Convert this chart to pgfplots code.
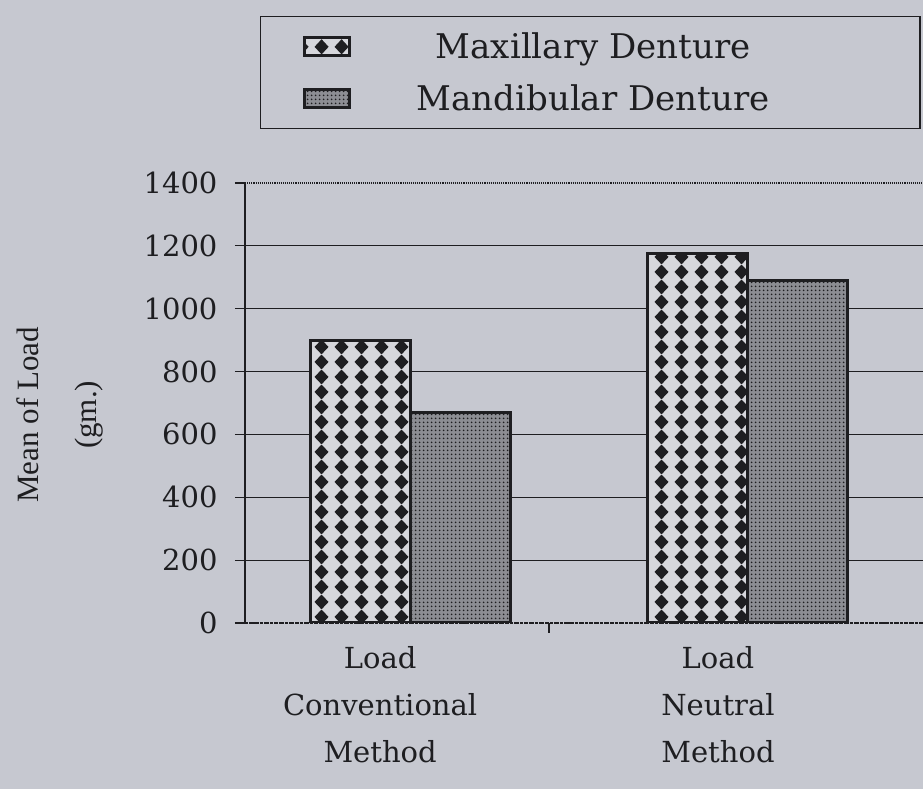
\documentclass[border=0pt]{standalone}
\usepackage{fontspec}
\setmainfont{DejaVu Serif}
\newfontfamily\timesf{Liberation Serif}
\usepackage{pgfplots}
\pgfplotsset{compat=1.18}
\usetikzlibrary{patterns,patterns.meta}
\definecolor{paper}{RGB}{198,200,208}
\definecolor{ink}{RGB}{30,30,33}
\definecolor{maxbg}{RGB}{214,215,220}
\definecolor{mandbg}{RGB}{140,141,147}
\tikzdeclarepattern{
  name=diamonds, type=uncolored,
  bottom left={(0pt,0pt)}, top right={(19.5pt,15pt)},
  tile size={(19.5pt,15pt)},
  code={\fill (9.75pt,-0.4pt) -- (16.9pt,7.5pt) -- (9.75pt,15.4pt) -- (2.6pt,7.5pt) -- cycle;}
}
\tikzdeclarepattern{
  name=finedots, type=uncolored,
  bottom left={(0pt,0pt)}, top right={(3.6pt,3.6pt)},
  tile size={(3.6pt,3.6pt)},
  code={\fill (1.8pt,1.8pt) circle (1.05pt);}
}
\pgfplotsset{
  boxlegend/.style={legend image code/.code={\path (-42pt,0pt); \draw[##1, line width=2pt] (0pt,-9pt) rectangle (45pt,9pt);}}
}
\begin{document}
\begin{tikzpicture}[x=1pt,y=1pt]
\fill[paper] (0,0) rectangle (923,789);
\useasboundingbox (0,0) rectangle (923,789);
\begin{axis}[
  at={(245pt,166pt)}, anchor=south west,
  scale only axis, width=678pt, height=440pt,
  xmin=-0.40, xmax=1.607, ymin=0, ymax=1400,
  axis x line=bottom, axis y line=left,
  axis line style={-, ink, line width=1.6pt},
  x axis line style={densely dashed},
  tick align=outside, major tick length=10pt,
  tick style={ink, line width=1.1pt},
  ytick={200,400,...,1200},
  ymajorgrids,
  major grid style={ink, line width=1.1pt},
  extra y ticks={0,1400},
  extra y tick style={ymajorgrids=true, major grid style={ink, densely dotted, line width=1.6pt}},
  /pgf/number format/assume math mode=true,
  /pgf/number format/1000 sep={},
  yticklabel style={font=\fontsize{29}{32}\selectfont, text=ink, xshift=-14pt},
  xtick={0.5}, xticklabels={{}},
  extra x ticks={0,1},
  extra x tick labels={{Load\\Conventional\\Method},{Load\\Neutral\\Method}},
  extra x tick style={major tick length=0pt},
  xticklabel style={align=center, font=\fontsize{29}{47}\selectfont, text=ink, yshift=-20pt},
  ylabel={Mean of Load\\[22pt](gm.)},
  ylabel style={font=\timesf\fontsize{31}{36}\selectfont, align=center, text=ink, at={(axis description cs:-0.273,0.473)}, anchor=center},
  legend style={at={(axis description cs:0.0221,1.3795)}, anchor=north west,
    draw=ink, line width=1.4pt, fill=none, inner xsep=0pt, inner ysep=4pt,
    column sep=0pt, row sep=0pt, nodes={inner sep=0pt, minimum height=52pt},
    font=\fontsize{34}{38}\selectfont, text=ink},
  legend cell align=left,
]
\addplot[ybar, bar width=100pt, bar shift=-20pt, draw=ink, line width=3pt,
  preaction={fill=maxbg}, preaction={pattern=diamonds, pattern color=ink}, boxlegend]
  coordinates {(0,900) (1,1175)};
\addlegendentry{\makebox[570pt][l]{\makebox[486pt][c]{Maxillary Denture}}}
\addplot[ybar, bar width=100pt, bar shift=80pt, draw=ink, line width=3pt,
  preaction={fill=mandbg}, preaction={pattern=finedots, pattern color=ink}, boxlegend]
  coordinates {(0,670) (1,1090)};
\addlegendentry{\makebox[570pt][l]{\makebox[486pt][c]{Mandibular Denture}}}
\end{axis}
\end{tikzpicture}
\end{document}
